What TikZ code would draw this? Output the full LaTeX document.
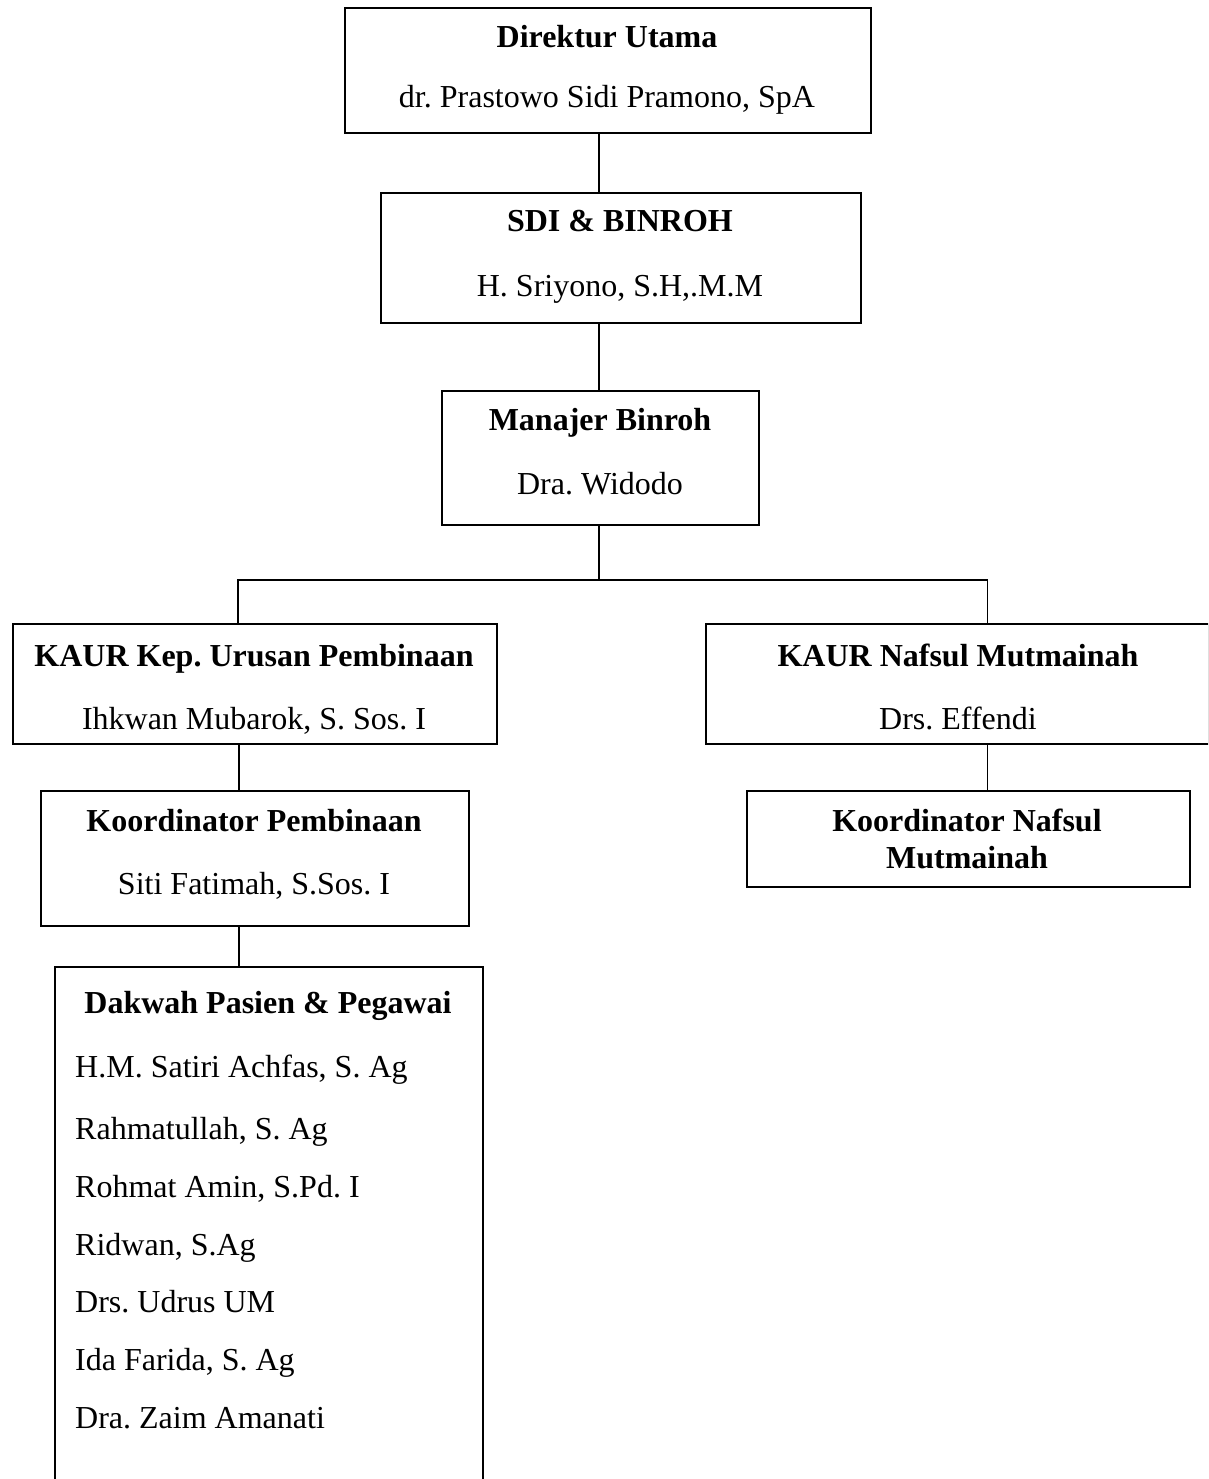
\documentclass[tikz,border=0pt]{standalone}
\usepackage{fontspec}
\setmainfont{Liberation Serif}
\begin{document}
\frenchspacing
\begin{tikzpicture}[x=1pt,y=-1pt,
  box/.style={draw, line width=1.6pt, inner sep=0pt, anchor=north west},
  ttl/.style={font=\fontsize{32}{38}\selectfont\bfseries, inner sep=0pt, anchor=base},
  nm/.style={font=\fontsize{32}{38}\selectfont, inner sep=0pt, anchor=base},
  item/.style={font=\fontsize{32}{38}\selectfont, inner sep=0pt, anchor=base west},
  conn/.style={line width=1.6pt}]
\clip (0,0) rectangle (1208,1479);
\fill[white] (0,0) rectangle (1208,1479);

% boxes
\node[box, minimum width=526pt, minimum height=125pt] (dir) at (344,7) {};
\node[box, minimum width=480pt, minimum height=130pt] (sdi) at (380,192) {};
\node[box, minimum width=317pt, minimum height=134pt] (man) at (441,390) {};
\node[box, minimum width=484pt, minimum height=120pt] (kaurL) at (12,623) {};
\node[box, minimum width=503pt, minimum height=120pt] (kaurR) at (705,623) {};
\node[box, minimum width=428pt, minimum height=135pt] (korP) at (40,790) {};
\node[box, minimum width=443pt, minimum height=96pt] (korN) at (746,790) {};
\node[box, minimum width=428pt, minimum height=540pt] (dak) at (54,966) {};

% texts
\node[ttl] (dirT) at (607,48) {Direktur Utama};
\node[nm]  (dirN) at (607,108) {dr. Prastowo Sidi Pramono, SpA};
\node[ttl] (sdiT) at (620,232) {SDI \& BINROH};
\node[nm]  (sdiN) at (620,296) {H. Sriyono, S.H,.M.M};
\node[ttl] (manT) at (600,430) {Manajer Binroh};
\node[nm]  (manN) at (600,494) {Dra. Widodo};
\node[ttl] (kaurLT) at (254,666) {KAUR Kep. Urusan Pembinaan};
\node[nm]  (kaurLN) at (254,729) {Ihkwan Mubarok, S. Sos. I};
\node[ttl] (kaurRT) at (958,666) {KAUR Nafsul Mutmainah};
\node[nm]  (kaurRN) at (958,729) {Drs. Effendi};
\node[ttl] (korPT) at (254,831) {Koordinator Pembinaan};
\node[nm]  (korPN) at (254,894) {Siti Fatimah, S.Sos. I};
\node[ttl] (korNT1) at (967,831) {Koordinator Nafsul};
\node[ttl] (korNT2) at (967,868) {Mutmainah};
\node[ttl] (dakT) at (268,1013) {Dakwah Pasien \& Pegawai};
\node[item] (i1) at (75,1077) {H.M. Satiri Achfas, S. Ag};
\node[item] (i2) at (75,1139) {Rahmatullah, S. Ag};
\node[item] (i3) at (75,1197) {Rohmat Amin, S.Pd. I};
\node[item] (i4) at (75,1255) {Ridwan, S.Ag};
\node[item] (i5) at (75,1312) {Drs. Udrus UM};
\node[item] (i6) at (75,1370) {Ida Farida, S. Ag};
\node[item] (i7) at (75,1428) {Dra. Zaim Amanati};

% connectors
\coordinate (hub) at (599,580);
\draw[conn] (dir.south -| hub) -- (sdi.north -| hub);
\draw[conn] (sdi.south -| hub) -- (man.north -| hub);
\draw[conn] (man.south -| hub) -- (hub);
\draw[conn] (hub) -| ([xshift=-17pt]kaurL.north);
\draw[conn] (hub) -| ([xshift=30pt]kaurR.north);
\draw[conn] ([xshift=-16pt]kaurL.south) -- ([xshift=-16pt]kaurL.south |- korP.north);
\draw[conn] ([xshift=30pt]kaurR.south) -- ([xshift=30pt]kaurR.south |- korN.north);
\draw[conn] ([xshift=-16pt]kaurL.south |- korP.south) -- ([xshift=-16pt]kaurL.south |- dak.north);
\end{tikzpicture}
\end{document}
